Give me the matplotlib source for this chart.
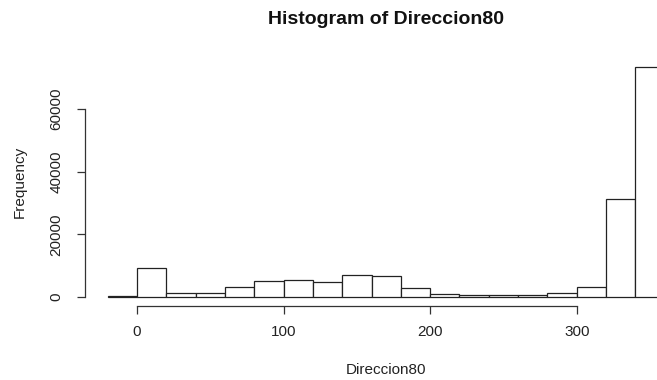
import numpy as np
import matplotlib.pyplot as plt

plt.rcParams['font.family'] = ['Liberation Sans', 'DejaVu Sans']

# bin edges (width 20) and counts
bordes = np.arange(-20, 361, 20)
frecuencias = [400, 9100, 1200, 1200, 3000, 5100, 5400, 4600, 6900, 6700,
               2700, 900, 500, 500, 500, 1100, 3200, 31200, 73600]
xticks = [0, 100, 200, 300]
yticks = [0, 20000, 40000, 60000]

fig = plt.figure(figsize=(6.57, 3.80), dpi=100)
# axes runs past the right edge, like the cropped original
ax = fig.add_axes([85.4 / 657, 1 - 306 / 380, (687 - 85.4) / 657, (306 - 57.5) / 380])

ax.hist(bordes[:-1], bins=bordes, weights=frecuencias,
        color='white', edgecolor='#222222', linewidth=0.9)

ymax = max(frecuencias)
ax.set_xlim(-20 - 0.04 * 380, 360 + 0.04 * 380)
ax.set_ylim(-0.04 * ymax, 1.04 * ymax)

for s in ['top', 'right']:
    ax.spines[s].set_visible(False)
ax.spines['bottom'].set_bounds(0, 300)
ax.spines['left'].set_bounds(0, 60000)
for s in ['bottom', 'left']:
    ax.spines[s].set_color('#333333')
    ax.spines[s].set_linewidth(0.9)

ax.set_xticks(xticks)
ax.set_yticks(yticks)
ax.set_yticklabels([str(v) for v in yticks], rotation=90, va='center')
ax.tick_params(length=5.8, width=0.9, color='#333333', labelsize=11,
               labelcolor='#222222')
ax.tick_params(axis='x', pad=8)
ax.tick_params(axis='y', pad=10)

fig.text(386 / 657, 1 - 20 / 380, 'Histogram of Direccion80', ha='center',
         va='center', fontsize=14, fontweight='bold', color='#111111')
fig.text(386 / 657, 1 - 370 / 380, 'Direccion80', ha='center', va='center',
         fontsize=11, color='#222222')
fig.text(20 / 657, 1 - 182 / 380, 'Frequency', ha='center', va='center',
         rotation=90, fontsize=11, color='#222222')

fig.savefig('out.png', dpi=100)
